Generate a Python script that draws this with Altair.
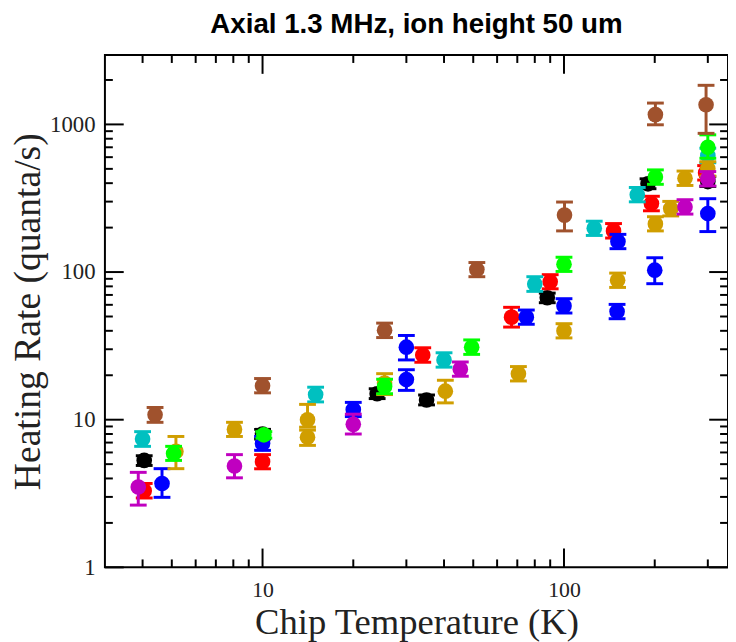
import altair as alt
import pandas as pd

# ---------------- text ----------------
title_text = "Axial 1.3 MHz, ion height 50 um"
x_title = "Chip Temperature (K)"
y_title = "Heating Rate (quanta/s)"

# ---------------- axes ----------------
x_domain = [3, 350]
y_domain = [1, 2950]
x_label_values = [10, 100]
y_label_values = [1, 10, 100, 1000]
x_major_ticks = [10, 100]
x_minor_ticks = [4, 5, 6, 7, 8, 9, 20, 30, 40, 50, 60, 70, 80, 90, 200, 300]
y_major_ticks = [1, 10, 100, 1000]
y_minor_ticks = [2, 3, 4, 5, 6, 7, 8, 9, 20, 30, 40, 50, 60, 70, 80, 90,
                 200, 300, 400, 500, 600, 700, 800, 900, 2000]

# ---------------- data (temperature K, heating rate, error low, error high) ----------------
black_temp = [4.05, 10, 24, 35, 88, 190, 300]
black_rate = [5.3, 8.0, 15.0, 13.6, 67, 396, 410]
black_lo = [4.9, 7.4, 13.9, 12.6, 62, 367, 380]
black_hi = [5.7, 8.6, 16.2, 14.7, 72, 428, 443]

red_temp = [4.05, 10, 34, 67, 90, 146, 195, 295]
red_rate = [3.3, 5.2, 27.4, 49.5, 86, 190, 291, 470]
red_lo = [2.95, 4.65, 24.5, 42.4, 77, 170, 260, 420]
red_hi = [3.7, 5.8, 30.7, 57.7, 96, 213, 326, 526]

blue_temp = [4.64, 10, 20, 30, 30, 75, 100, 151, 150, 200, 300]
blue_rate = [3.7, 6.9, 11.7, 31, 18.7, 49.5, 59, 161, 54, 103, 249]
blue_lo = [2.98, 6.2, 10.5, 25.4, 15.8, 44.3, 52.8, 144, 48.3, 83.4, 188]
blue_hi = [4.66, 7.7, 13.1, 37.2, 21.8, 55.3, 66, 180, 60.4, 125, 314]

cyan_temp = [4, 15, 40, 80, 126, 175, 300]
cyan_rate = [7.4, 14.8, 25.4, 83, 198, 334, 615]
cyan_lo = [6.6, 13.2, 22.7, 74, 177, 299, 550]
cyan_hi = [8.3, 16.6, 28.4, 93, 221, 374, 690]

gold_temp = [5.16, 8.07, 14.1, 14.1, 25.4, 40.4, 70.6, 100, 150.6, 201, 226, 252, 300]
gold_rate = [6.1, 8.6, 10.0, 7.6, 17.7, 15.6, 20.5, 40, 88, 212, 269, 432, 500]
gold_lo = [4.66, 7.7, 8.9, 6.7, 14.8, 13.0, 18.3, 35.8, 78.7, 190, 240, 386, 447]
gold_hi = [7.7, 9.6, 12.7, 8.5, 20.5, 18.5, 22.9, 44.7, 98.4, 237, 301, 483, 559]

magenta_temp = [3.87, 8.07, 20, 45.3, 252, 300]
magenta_rate = [3.5, 4.86, 9.3, 22, 276, 428]
magenta_lo = [2.64, 4.04, 8.0, 19.7, 247, 383]
magenta_hi = [4.4, 5.8, 10.9, 24.6, 309, 479]

green_temp = [5.07, 10.1, 25.4, 49.4, 100, 201, 300]
green_rate = [5.9, 7.9, 16.8, 31, 113, 440, 700]
green_lo = [5.3, 7.5, 15.0, 27.7, 101, 393, 590]
green_hi = [6.6, 8.3, 18.8, 34.7, 126, 492, 850]

brown_temp = [4.4, 10, 25.4, 51.4, 100.4, 201, 296]
brown_rate = [10.8, 17.0, 40.3, 104, 243, 1165, 1360]
brown_lo = [9.6, 15.2, 36.0, 93, 190, 994, 870]
brown_hi = [12.1, 19.0, 45.1, 116, 298, 1395, 1840]

series = [
    ("#000000", black_temp, black_rate, black_lo, black_hi),
    ("#ff0000", red_temp, red_rate, red_lo, red_hi),
    ("#0000ff", blue_temp, blue_rate, blue_lo, blue_hi),
    ("#00c0c0", cyan_temp, cyan_rate, cyan_lo, cyan_hi),
    ("#d09e00", gold_temp, gold_rate, gold_lo, gold_hi),
    ("#c000c0", magenta_temp, magenta_rate, magenta_lo, magenta_hi),
    ("#00ff00", green_temp, green_rate, green_lo, green_hi),
    ("#a0522d", brown_temp, brown_rate, brown_lo, brown_hi),
]

W, H = 630, 518
SERIF = "Liberation Serif"
MAJOR, MINOR = 19, 8

xscale = alt.Scale(type="log", domain=x_domain, nice=False)
yscale = alt.Scale(type="log", domain=y_domain, nice=False)
xaxis = alt.Axis(values=x_label_values, format="d", ticks=False, domain=False, grid=False,
                 labelFlush=False, labelFont=SERIF, labelFontSize=22, labelColor="#222222",
                 labelPadding=12, title=x_title, titleFont=SERIF, titleFontSize=37,
                 titleFontWeight="normal", titleColor="#222222", titlePadding=5)
yaxis = alt.Axis(values=y_label_values, format="d", ticks=False, domain=False, grid=False,
                 labelFlush=False, labelFont=SERIF, labelFontSize=23, labelColor="#222222",
                 labelPadding=10, title=y_title, titleFont=SERIF, titleFontSize=38,
                 titleFontWeight="normal", titleColor="#222222", titlePadding=2)


def X(field):
    return alt.X(f"{field}:Q", scale=xscale, axis=xaxis)


def Y(field):
    return alt.Y(f"{field}:Q", scale=yscale, axis=yaxis)


layers = []

# inward ticks on all four sides
for vals, L in ((x_major_ticks, MAJOR), (x_minor_ticks, MINOR)):
    d = pd.DataFrame({"T": vals})
    layers.append(alt.Chart(d).mark_rule(color="black", strokeWidth=2).encode(
        x=X("T"), y=alt.value(H), y2=alt.value(H - L)))
    layers.append(alt.Chart(d).mark_rule(color="black", strokeWidth=2).encode(
        x=X("T"), y=alt.value(0), y2=alt.value(L)))
for vals, L in ((y_major_ticks, MAJOR), (y_minor_ticks, MINOR)):
    d = pd.DataFrame({"rate": vals})
    layers.append(alt.Chart(d).mark_rule(color="black", strokeWidth=2).encode(
        y=Y("rate"), x=alt.value(0), x2=alt.value(L)))
    layers.append(alt.Chart(d).mark_rule(color="black", strokeWidth=2).encode(
        y=Y("rate"), x=alt.value(W), x2=alt.value(W - L)))

for color, t, r, lo, hi in series:
    d = pd.DataFrame({"T": t, "rate": r, "lo": lo, "hi": hi})
    base = alt.Chart(d)
    layers.append(base.mark_rule(color=color, strokeWidth=3).encode(
        x=X("T"), y=Y("lo"), y2="hi:Q"))
    for f in ("lo", "hi"):
        layers.append(base.mark_point(shape="M-1,0L1,0", size=289, filled=False,
                                      strokeWidth=3, color=color, opacity=1).encode(
            x=X("T"), y=Y(f)))
    layers.append(base.mark_circle(size=250, color=color, opacity=1).encode(
        x=X("T"), y=Y("rate")))

chart = alt.layer(*layers).properties(
    width=W,
    height=H,
    title=alt.TitleParams(text=title_text, font="Liberation Sans", fontSize=28,
                          fontWeight="bold", color="black", anchor="middle", offset=15),
    padding={"left": 98, "top": 44, "right": 0, "bottom": 80},
    autosize=alt.AutoSizeParams(type="none"),
).configure_view(stroke="black", strokeWidth=2)

chart.save("out.html", embed_options={"renderer": "svg", "actions": False})
